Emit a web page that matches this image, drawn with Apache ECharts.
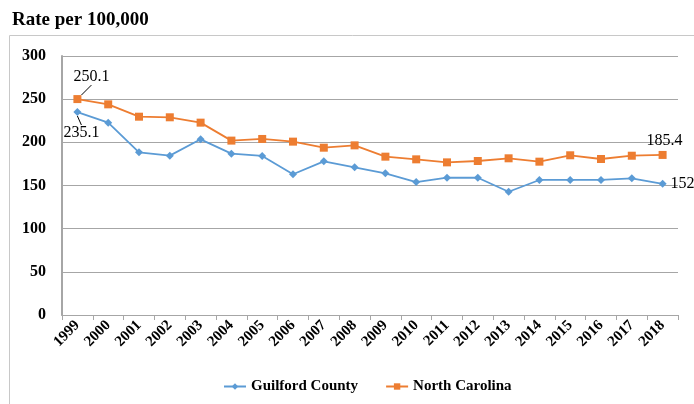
<!DOCTYPE html>
<html><head><meta charset="utf-8">
<script src="https://cdn.jsdelivr.net/npm/echarts@6/dist/echarts.min.js"></script>
<style>html,body{margin:0;padding:0;background:#fff}#c{width:694px;height:404px}</style>
</head><body><div id="c"></div>
<script>
const years = ['1999','2000','2001','2002','2003','2004','2005','2006','2007','2008','2009','2010','2011','2012','2013','2014','2015','2016','2017','2018'];
const guilford = [235.1,222.8,188.4,184.6,203.5,186.9,184.2,163,178,171,164.1,154,159,159,142.8,156.4,156.4,156.4,158.3,152];
const northCarolina = [250.1,244,229.7,229,222.8,202,203.9,200.8,193.8,196.5,183.4,180.3,176.8,178.4,181.5,177.6,185,180.7,184.5,185.4];
const yTicks = [0,50,100,150,200,250,300];

const FONT = '"Liberation Serif", "Times New Roman", serif';
const BLUE = '#5b9bd5', ORANGE = '#ed7d31';
const last = years.length - 1;

function buildData(vals, labelled) {
  return vals.map((v, i) => {
    const item = { value: v };
    if (labelled[i]) {
      item.label = Object.assign({ show: true }, labelled[i].label);
      item.labelLine = { show: !!labelled[i].line, lineStyle: { color: '#000', width: 1 } };
    }
    return item;
  });
}

const gLabels = {}; gLabels[0] = { label: { position: 'bottom' }, line: true }; gLabels[last] = { label: { position: 'right', distance: 4 } };
const nLabels = {}; nLabels[0] = { label: { position: 'top' }, line: true }; nLabels[last] = { label: { position: 'top' } };

const chart = echarts.init(document.getElementById('c'));
chart.setOption({
  animation: false,
  textStyle: { fontFamily: FONT },
  title: { text: 'Rate per 100,000', left: 7, top: 6,
    textStyle: { fontFamily: FONT, fontWeight: 'bold', fontSize: 19, color: '#000' } },
  graphic: [{ type: 'rect', shape: { x: 9.5, y: 35.5, width: 800, height: 500 },
    style: { fill: 'none', stroke: '#c8c8c8', lineWidth: 1 }, silent: true }],
  grid: { left: 62, right: 16, top: 56, bottom: 89 },
  legend: { bottom: 5, left: 218, itemGap: 27, itemWidth: 22, itemHeight: 8,
    textStyle: { fontFamily: FONT, fontWeight: 'bold', fontSize: 15, color: '#000' },
    data: ['Guilford County', 'North Carolina'] },
  xAxis: { type: 'category', data: years, boundaryGap: true,
    axisLine: { lineStyle: { color: '#a6a6a6', width: 1 } },
    axisTick: { show: true, alignWithLabel: false, length: 5, lineStyle: { color: '#a6a6a6' } },
    axisLabel: { rotate: 45, interval: 0, margin: 8, fontFamily: FONT, fontWeight: 'bold', fontSize: 15, color: '#000' } },
  yAxis: { type: 'value', min: 0, max: 300, interval: 50,
    axisLine: { show: true, lineStyle: { color: '#a6a6a6', width: 2 } },
    axisTick: { show: false },
    splitLine: { lineStyle: { color: '#a6a6a6', width: 1 } },
    axisLabel: { margin: 16, fontFamily: FONT, fontWeight: 'bold', fontSize: 16, color: '#000',
      formatter: v => yTicks.includes(v) ? String(v) : '' } },
  series: [
    { name: 'Guilford County', type: 'line', data: buildData(guilford, gLabels),
      symbol: 'diamond', symbolSize: 8, itemStyle: { color: BLUE }, lineStyle: { color: BLUE, width: 1.8 },
      label: { fontFamily: FONT, fontSize: 16, color: '#000', distance: 3 },
      labelLayout: p => p.dataIndex === 0 ? { dx: 4, dy: 6 } : {} },
    { name: 'North Carolina', type: 'line', data: buildData(northCarolina, nLabels),
      symbol: 'rect', symbolSize: 8, itemStyle: { color: ORANGE }, lineStyle: { color: ORANGE, width: 1.8 },
      label: { fontFamily: FONT, fontSize: 16, color: '#000', distance: 5 },
      labelLayout: p => p.dataIndex === 0 ? { dx: 14, dy: -5 } : (p.dataIndex === last ? { dx: 2, dy: 3 } : {}) }
  ]
});
</script></body></html>
